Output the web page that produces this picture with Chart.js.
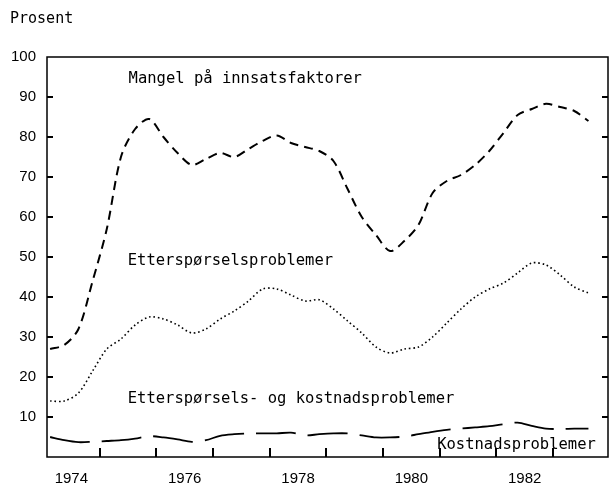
<!DOCTYPE html>
<html><head><meta charset="utf-8">
<script src="https://cdn.jsdelivr.net/npm/chart.js@4"></script>
<style>html,body{margin:0;padding:0;background:#fff}#wrap{width:609px;height:487px}</style>
</head><body><div id="wrap"><canvas id="c" width="609" height="487"></canvas></div>
<script>
const quarters = [
 "1974K1","1974K2","1974K3","1974K4","1975K1","1975K2","1975K3","1975K4",
 "1976K1","1976K2","1976K3","1976K4","1977K1","1977K2","1977K3","1977K4",
 "1978K1","1978K2","1978K3","1978K4","1979K1","1979K2","1979K3","1979K4",
 "1980K1","1980K2","1980K3","1980K4","1981K1","1981K2","1981K3","1981K4",
 "1982K1","1982K2","1982K3","1982K4","1983K1","1983K2","1983K3"];
const mangel = [27, 28, 32, 44, 57, 75, 82, 84.5, 80, 76, 73, 74.5, 76, 75, 77, 79, 80.4, 78.5, 77.5, 76.5,
 74, 67, 60, 55.5, 51.5, 54, 58, 66, 69, 70.5, 73, 76.5, 81, 85.5, 87, 88.3, 87.5, 86.5, 84];
const ettersporsel = [14, 14, 16, 21.5, 27, 29.5, 33, 35, 34.5, 33, 31, 32, 34.5, 36.5, 39, 42, 42, 40.5, 39, 39.3,
 37, 34, 31, 27.5, 26, 27, 27.5, 30, 33.5, 37, 40, 42, 43.5, 46, 48.5, 48, 45.5, 42.5, 41];
const kostnad = [5, 4.2, 3.7, 3.8, 4, 4.2, 4.6, 5.2, 4.9, 4.4, 3.8, 4.2, 5.3, 5.7, 5.9, 5.9, 5.9, 6.1, 5.4, 5.7,
 5.9, 5.9, 5.4, 4.9, 4.9, 5.1, 5.7, 6.3, 6.8, 7.1, 7.4, 7.7, 8.2, 8.6, 7.8, 7.1, 7.0, 7.1, 7.1];
const yearLabels = [1974, 1976, 1978, 1980, 1982];
const yearTicks = [1975, 1976, 1977, 1978, 1979, 1980, 1981, 1982, 1983];
const yTicks = [10, 20, 30, 40, 50, 60, 70, 80, 90, 100];
const annotations = [
 {text: "Mangel på innsatsfaktorer", x: 1975.51, y: 93.6},
 {text: "Etterspørselsproblemer", x: 1975.495, y: 47.9},
 {text: "Etterspørsels- og kostnadsproblemer", x: 1975.495, y: 13.6},
 {text: "Kostnadsproblemer", x: 1980.955, y: 2.1}
];

const toT = s => { const p = s.split('K'); return +p[0] + (+p[1] - 0.5) / 4; };
const mk = vals => quarters.map((q, i) => ({x: toT(q), y: vals[i]}));

const framePlugin = {
  id: 'frame',
  afterDatasetsDraw(chart) {
    const {ctx, chartArea: a, scales: {x, y}} = chart;
    ctx.save();
    ctx.setLineDash([]);
    ctx.strokeStyle = '#000';
    ctx.lineWidth = 1.5;
    ctx.strokeRect(a.left, a.top, a.right - a.left, a.bottom - a.top);
    ctx.lineWidth = 2;
    ctx.beginPath();
    yearTicks.forEach(t => { const px = Math.round(x.getPixelForValue(t)); ctx.moveTo(px, a.bottom); ctx.lineTo(px, a.bottom - 9); });
    yTicks.slice(0, -1).forEach(v => {
      const py = Math.round(y.getPixelForValue(v));
      ctx.moveTo(a.left, py); ctx.lineTo(a.left + 6, py);
      ctx.moveTo(a.right, py); ctx.lineTo(a.right - 6, py);
    });
    ctx.stroke();
    ctx.fillStyle = '#000';
    ctx.font = '15.5px "DejaVu Sans Mono"';
    ctx.textBaseline = 'alphabetic';
    ctx.textAlign = 'left';
    annotations.forEach(an => ctx.fillText(an.text, x.getPixelForValue(an.x), y.getPixelForValue(an.y)));
    ctx.font = '15px "DejaVu Sans Mono"';
    ctx.fillText('Prosent', 10, 23);
    ctx.restore();
  }
};

new Chart(document.getElementById('c'), {
  type: 'line',
  data: {datasets: [
    {label: 'Mangel på innsatsfaktorer', data: mk(mangel), borderColor: '#000', borderWidth: 2, borderDash: [9, 6], pointRadius: 0, tension: 0.3, fill: false},
    {label: 'Etterspørselsproblemer', data: mk(ettersporsel), borderColor: '#000', borderWidth: 1.6, borderDash: [1.6, 2.8], pointRadius: 0, tension: 0.3, fill: false},
    {label: 'Kostnadsproblemer', data: mk(kostnad), borderColor: '#000', borderWidth: 1.8, borderDash: [40, 12], pointRadius: 0, tension: 0.3, fill: false}
  ]},
  options: {
    responsive: false, animation: false,
    layout: {padding: {top: 57, right: 1, left: 0, bottom: 0}},
    plugins: {legend: {display: false}, tooltip: {enabled: false}},
    scales: {
      x: {type: 'linear', min: 1974.07, max: 1983.97,
        afterBuildTicks: s => { s.ticks = yearLabels.map(v => ({value: v + 0.5})); },
        ticks: {callback: v => String(Math.floor(v)), font: {family: 'Liberation Sans', size: 15}, color: '#000', padding: 5, maxRotation: 0, autoSkip: false},
        grid: {display: false}, border: {display: false},
        afterFit: s => { s.height = 30; }
      },
      y: {min: 0, max: 100,
        afterBuildTicks: s => { s.ticks = yTicks.map(v => ({value: v})); },
        ticks: {callback: v => String(v), font: {family: 'Liberation Sans', size: 15}, color: '#000', padding: 3},
        grid: {display: false}, border: {display: false},
        afterFit: s => { s.width = 47; }
      }
    }
  },
  plugins: [framePlugin]
});
</script></body></html>
